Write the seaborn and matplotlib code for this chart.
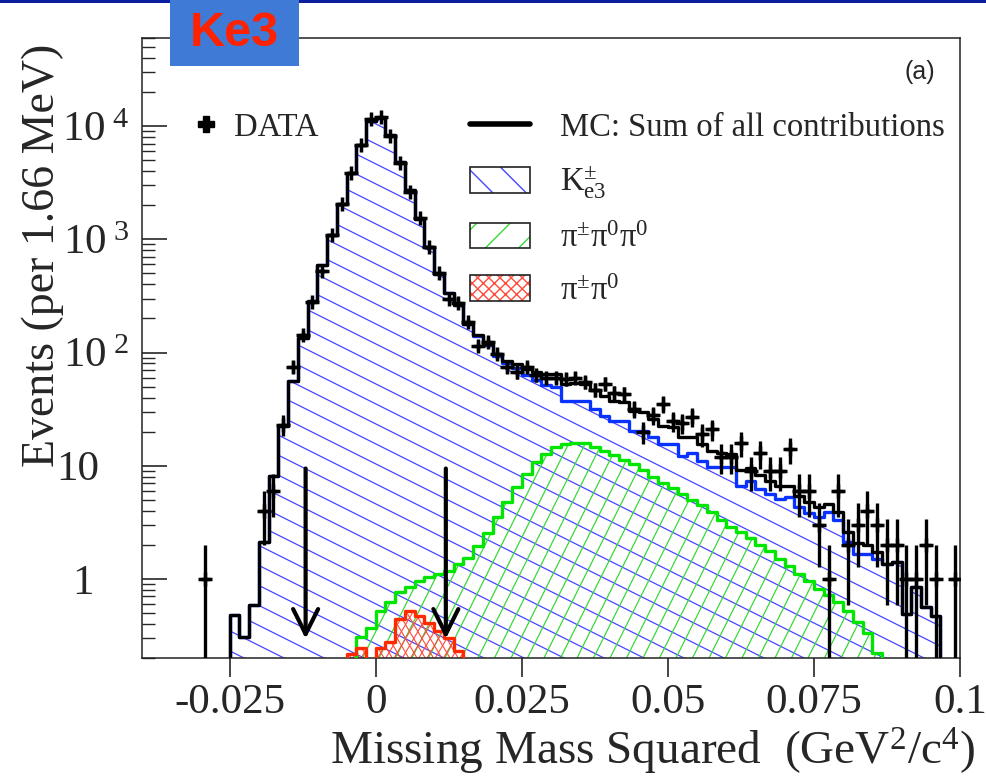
import numpy as np
import pandas as pd
import matplotlib
matplotlib.use("Agg")
import matplotlib.pyplot as plt
import seaborn as sns
from matplotlib.collections import LineCollection
from matplotlib.lines import Line2D
from matplotlib.patches import Patch, Rectangle
from matplotlib.legend_handler import HandlerTuple
from matplotlib.ticker import FixedLocator, LogLocator, NullFormatter
from matplotlib.transforms import ScaledTranslation

# histogram binning: 1/600 GeV^2 bins between -0.04 and 0.1
x_lo, x_hi, n_bins = -0.04, 0.1, 84

# MC K_e3
ke3 = [0, 0, 0, 0, 0, 0, 0, 0, 0,
       0.48, 0.31, 0.59, 2.1, 8.1, 22.5, 56, 133, 288, 598, 1097,
       2035, 3850, 6820, 11080, 11680, 8320, 4820, 2700, 1520, 848,
       493, 336, 262, 178, 140, 116, 94, 80, 73, 63,
       57, 52, 50, 37.5, 37.5, 37, 32, 27.6, 25, 25,
       20.4, 20.4, 17.8, 15.6, 15.6, 12.3, 13, 11, 9.7, 9.7,
       9.7, 6.6, 7.3, 6.2, 5.6, 5.1, 5.3, 4.3, 3.8, 3.5,
       3.9, 3.3, 2.1, 1.66, 1.66, 1.5, 1.36, 1.4, 0.49, 0.84,
       0.56, 0.47, 0, 0]
# MC pi+ pi0 pi0 (green)
pi3 = [0] * 22 + [
       0.31, 0.37, 0.52, 0.62, 0.76, 0.84, 0.96, 1.03,
       1.1, 1.18, 1.36, 1.54, 1.96, 2.57, 3.49, 4.74, 6.43, 8.5,
       10.7, 12.7, 14.5, 15.6, 15.8, 15.8, 14.5, 13.5, 12.5, 11.3,
       10.3, 9.2, 8.0, 7.0, 6.3, 5.6, 5.0, 4.5, 3.9, 3.3,
       2.9, 2.6, 2.3, 2.0, 1.75, 1.5, 1.3, 1.1, 0.95, 0.82,
       0.72, 0.62, 0.52, 0.42, 0.33, 0.22] + [0] * 8
# MC pi+ pi0 (red)
pi2 = [0] * 21 + [0.215, 0.247, 0, 0.247, 0.28, 0.44, 0.52, 0.47, 0.41,
                  0.35, 0.30, 0.23] + [0] * 51
# data counts
data = [0, 0, 0, 0, 0, 0, 1, 0, 0, 0,
        0, 0, 4, 6, 23, 75, 144, 277, 520, 1100,
        2040, 3860, 6830, 11500, 12000, 8100, 4700, 2600, 1530, 855,
        500, 300, 275, 185, 115, 123, 98, 74, 67, 74,
        63, 60, 60, 58, 60, 55, 47, 53, 44, 43,
        32, 20, 28, 35, 25, 24, 27, 19, 21, 12,
        12, 16, 9, 13, 9, 9, 14, 6, 6, 3,
        1, 6, 2, 3, 4, 3, 2, 2, 1, 1,
        2, 1, 0, 1]
# cut positions (arrows)
cut_x = [-0.012, 0.012]
cut_from, cut_to = 10, 0.28

x_ticks = [-0.025, 0, 0.025, 0.05, 0.075, 0.1]
x_labels = ["-0.025", "0", "0.025", "0.05", "0.075", "0.1"]
y_ticks = [1, 10, 100, 1000, 10000]
y_labels = ["1", "10", r"10$^{\,\,2}$", r"10$^{\,\,3}$", r"10$^{\,\,4}$"]

ke3 = np.array(ke3, float)
pi3 = np.array(pi3, float)
pi2 = np.array(pi2, float)
data = np.array(data, float)
edges = np.linspace(x_lo, x_hi, n_bins + 1)
centers = 0.5 * (edges[:-1] + edges[1:])
mc_sum = ke3 + pi3 + pi2

sns.set_theme(style="ticks")
plt.rcParams.update({
    "font.family": ["Liberation Serif", "DejaVu Serif"],
    "mathtext.fontset": "custom",
    "mathtext.rm": "Liberation Serif",
    "mathtext.it": "Liberation Serif:italic",
    "mathtext.bf": "Liberation Serif:bold",
    "axes.linewidth": 1.1,
    "axes.edgecolor": "#222222",
})

blue_line, blue_hatch = "#0a32ff", "#4646ff"
green_line, green_hatch = "#00e600", "#3ad83a"
red_line, red_hatch = "#ff2a00", "#ff4a3a"

fig = plt.figure(figsize=(9.87, 7.76), dpi=100)
ax = fig.add_axes([0.1439, 0.152, 0.8287, 0.799])
ax.set_yscale("log")
ax.set_xlim(x_lo, x_hi)
ax.set_ylim(0.2, 6e4)
W_px = 0.8287 * 987
H_px = 0.799 * 776


def hatch_fill(vals, color, slope, gap, lw=1.0):
    top = np.where(vals > 0, vals, 1e-3)
    poly = ax.fill_between(edges, np.append(top, top[-1]), 1e-3, step="post",
                           facecolor="none", edgecolor="none")
    span = abs(slope) * W_px + H_px
    segs = [[(0, c / H_px), (1, (c + slope * W_px) / H_px)]
            for c in np.arange(-span, span, gap)]
    lc = LineCollection(segs, colors=color, linewidths=lw,
                        transform=ax.transAxes, zorder=1)
    lc.set_clip_path(poly.get_paths()[0], ax.transData)
    lc.set_clip_box(ax.bbox)
    ax.add_collection(lc, autolim=False)


hatch_fill(ke3, blue_hatch, -0.5, 20, lw=0.9)
hatch_fill(pi3, green_hatch, 2.0, 33, lw=0.9)
hatch_fill(pi2, red_hatch, 1.7, 14, lw=0.8)
hatch_fill(pi2, red_hatch, -1.7, 14, lw=0.8)

for vals, col in [(ke3, blue_line), (pi3, green_line), (pi2, red_line),
                  (mc_sum, "black")]:
    hist = pd.DataFrame({"mm2": centers, "events": vals})
    sns.histplot(data=hist, x="mm2", weights="events", bins=list(edges),
                 element="step", fill=False, color=col, linewidth=2.4, ax=ax,
                 zorder=3)

# data with Poisson errors
m = data > 0
err_lo = np.minimum(np.sqrt(data[m]), data[m] - 1e-3)
ax.errorbar(centers[m], data[m], xerr=(edges[1] - edges[0]) / 2,
            yerr=[err_lo, np.sqrt(data[m])], fmt="+", color="black",
            ms=10, mew=2.5, elinewidth=2.4, capsize=0, zorder=4)

for cx in cut_x:
    ax.annotate("", xy=(cx, cut_to), xytext=(cx, cut_from),
                arrowprops=dict(arrowstyle="->,head_length=0.9,head_width=0.45",
                                color="black", lw=3, mutation_scale=20),
                zorder=5)

ax.set_yscale("log")
ax.set_xlim(x_lo, x_hi)
ax.set_ylim(0.2, 6e4)
ax.xaxis.set_major_locator(FixedLocator(x_ticks))
ax.set_xticklabels(x_labels)
ax.yaxis.set_major_locator(FixedLocator(y_ticks))
ax.set_yticklabels(y_labels)
ax.yaxis.set_minor_locator(LogLocator(base=10, subs=np.arange(2, 10)))
ax.yaxis.set_minor_formatter(NullFormatter())
ax.tick_params(axis="x", which="major", direction="out", length=14, width=1.2,
               labelsize=31, pad=4, top=False)
ax.tick_params(axis="x", which="minor", bottom=False, top=False)
ax.tick_params(axis="y", which="major", direction="in", length=18, width=1.2,
               labelsize=31, pad=9, right=False)
ax.tick_params(axis="y", which="minor", direction="in", length=9, width=1.0,
               right=False)
for s in ax.spines.values():
    s.set_visible(True)

# ROOT-style: plain "1" and "10" sit left of the exponent column
for tick, shift in zip(ax.yaxis.get_major_ticks(), [-36, -30, 0, 0, 0]):
    if shift:
        tick.label1.set_transform(tick.label1.get_transform()
                                  + ScaledTranslation(shift / 100, 0,
                                                      fig.dpi_scale_trans))

ax.set_xlabel(r"Missing Mass Squared  (GeV$^2$/c$^4$)", fontsize=34, loc="right")
ax.xaxis.set_label_coords(1.018, -0.11)
ax.set_ylabel("Events (per 1.66 MeV)", fontsize=33, loc="top")
ax.yaxis.set_label_coords(-0.095, 0.99)

ax.text(0.951, 0.945, "(a)", transform=ax.transAxes, ha="center", va="center",
        fontsize=18, family="Liberation Sans")

# legends
leg_kw = dict(frameon=False, fontsize=23.5, borderpad=0, borderaxespad=0,
              labelspacing=0.66, handleheight=0.83)
leg1 = ax.legend([Line2D([], [], marker="P", color="black", ls="none", ms=12)],
                 ["DATA"], loc="upper left", bbox_to_anchor=(0.0587, 0.881),
                 handlelength=1.0, handletextpad=0.35, **leg_kw)
ax.add_artist(leg1)
frame = dict(facecolor="none", edgecolor="#222222", lw=1.2)
handles = [
    Line2D([], [], color="black", lw=4),
    (Patch(facecolor="white", edgecolor=blue_hatch, hatch="\\", lw=0), Patch(**frame)),
    (Patch(facecolor="white", edgecolor=green_hatch, hatch="/", lw=0), Patch(**frame)),
    (Patch(facecolor="white", edgecolor=red_hatch, hatch="xxx", lw=0), Patch(**frame)),
]
labels = ["MC: Sum of all contributions", r"$\mathrm{K}^{\pm}_{\mathrm{e3}}$",
          r"π$^{\pm}$π$^{0}$π$^{0}$", r"π$^{\pm}$π$^{0}$"]
ax.legend(handles, labels, loc="upper left", bbox_to_anchor=(0.401, 0.881),
          handlelength=1.84, handletextpad=0.92,
          handler_map={tuple: HandlerTuple(ndivide=1, pad=0)}, **leg_kw)

# slide decorations
fig.add_artist(Rectangle((0, 1 - 3 / 776), 1, 3 / 776, transform=fig.transFigure,
                         color="#0a1e9e", lw=0))
fig.add_artist(Rectangle((170 / 987, 1 - 66 / 776), 129 / 987, 66 / 776,
                         transform=fig.transFigure, color="#3f7ad6", lw=0))
fig.text(234 / 987, 1 - 33 / 776, "Ke3", ha="center", va="center", color="#ff2200",
         fontsize=35, fontweight="bold", family="Liberation Sans", zorder=5)

fig.savefig("out.png", dpi=100)
